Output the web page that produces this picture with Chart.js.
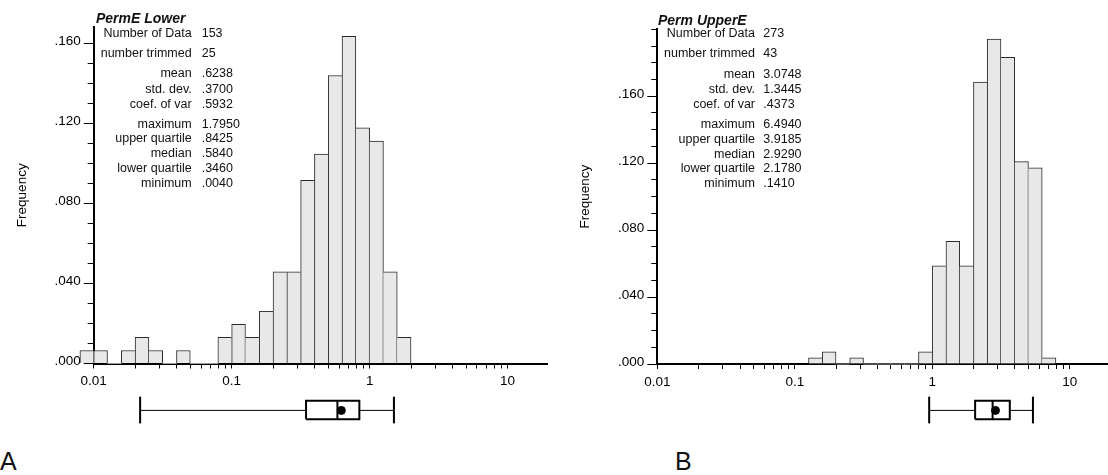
<!DOCTYPE html>
<html>
<head>
<meta charset="utf-8">
<script src="https://cdn.jsdelivr.net/npm/chart.js@4/dist/chart.umd.min.js"></script>
<style>
  html, body { margin: 0; padding: 0; background: #fff; }
  body {
    width: 1108px; height: 475px; position: relative; overflow: hidden;
    font-family: "Liberation Sans", Arial, Helvetica, sans-serif; color: #111;
  }
  canvas { position: absolute; }
  .title { position: absolute; font-size: 14px; line-height: 16px; font-weight: bold; font-style: italic; white-space: nowrap; }
  .lab, .val { position: absolute; font-size: 12.5px; line-height: 15px; white-space: nowrap; }
  .lab { width: 160px; text-align: right; }
  .tag { position: absolute; font-size: 25px; line-height: 25px; }
</style>
</head>
<body>
<script>
// ---- data ----
const statLabels = ['Number of Data', 'number trimmed', 'mean', 'std. dev.', 'coef. of var',
  'maximum', 'upper quartile', 'median', 'lower quartile', 'minimum'];
const statsA = ['153', '25', '.6238', '.3700', '.5932', '1.7950', '.8425', '.5840', '.3460', '.0040'];
const statsB = ['273', '43', '3.0748', '1.3445', '.4373', '6.4940', '3.9185', '2.9290', '2.1780', '.1410'];

// log10 of each class' lower edge, and the class frequency
const binStartA = [-2.1, -2.0, -1.9, -1.8, -1.7, -1.6, -1.5, -1.4, -1.3, -1.2, -1.1, -1.0, -0.9,
  -0.8, -0.7, -0.6, -0.5, -0.4, -0.3, -0.2, -0.1, 0.0, 0.1, 0.2];
const freqA = [0.0065, 0.0065, 0, 0.0065, 0.0131, 0.0065, 0, 0.0065, 0, 0, 0.0131, 0.0196, 0.0131,
  0.0261, 0.0458, 0.0458, 0.0915, 0.1046, 0.1438, 0.1634, 0.1176, 0.1111, 0.0458, 0.0131];
const binStartB = [-0.9, -0.8, -0.7, -0.6, -0.5, -0.4, -0.3, -0.2, -0.1, 0.0, 0.1, 0.2, 0.3, 0.4,
  0.5, 0.6, 0.7, 0.8];
const freqB = [0.0037, 0.0073, 0, 0.0037, 0, 0, 0, 0, 0.0073, 0.0586, 0.0733, 0.0586, 0.1685,
  0.1941, 0.1832, 0.1209, 0.1172, 0.0037];

// whisker low, lower quartile, median, upper quartile, whisker high
const boxA = [0.0217, 0.346, 0.584, 0.8425, 1.50];
const meanA = 0.6238;
const boxB = [1.0, 2.178, 2.929, 3.9185, 5.80];
const meanB = 3.0748;

const yTicks = [0, 0.04, 0.08, 0.12, 0.16];
const yTickLabels = ['.000', '.040', '.080', '.120', '.160'];
const xTicks = [0.01, 0.1, 1, 10];
const xTickLabels = ['0.01', '0.1', '1', '10'];

// ---- layout ----
const BIN = 0.1; // class width in log10 units
const FONT = '"Liberation Sans", Arial, Helvetica, sans-serif';
Chart.defaults.font.family = FONT;
Chart.defaults.color = '#000';

const BOX = { top: 385, height: 50, capLo: 0.166, boxLo: 0.266, mid: 0.49, boxHi: 0.734, capHi: 0.834 };
const ROWS = [0, 20, 40.5, 56, 71, 91, 105.5, 120.5, 135, 150];

const panels = [
  { tag: 'A', name: 'PermE Lower', stats: statsA, starts: binStartA, freq: freqA, box: boxA, mean: meanA,
    left: 0, width: 560, axisX: 93.7, right: 547.3, top: 27, bottom: 363.5, xMax: 19.4, yMax: 0.168,
    titlePad: 14, nameX: 96, nameY: 10.4, labX: 191.7, valX: 201.7, rowY: 32.8, tagX: 0 },
  { tag: 'B', name: 'Perm UpperE', stats: statsB, starts: binStartB, freq: freqB, box: boxB, mean: meanB,
    left: 570, width: 538, axisX: 657.3, right: 1108, top: 29.3, bottom: 364, xMax: 19, yMax: 0.2,
    titlePad: 7, nameX: 658, nameY: 11.9, labX: 755, valX: 763.3, rowY: 33.4, tagX: 675 }
];

const xAllTicks = xTicks.flatMap(d => d < 10 ? [1, 2, 3, 4, 5, 6, 7, 8, 9].map(k => d * k) : [d]);
const xLabel = v => {
  const i = xTicks.findIndex(t => Math.abs(t - v) < t * 1e-6);
  return i < 0 ? '' : xTickLabels[i];
};

// each divider is drawn once, by the taller of the two neighbouring classes
function barEdges(ctx) {
  const d = ctx.dataset.data, i = ctx.dataIndex;
  if (i === undefined || !d[i].y) return 0;
  const v = d[i].y;
  const prev = i > 0 ? d[i - 1].y : 0;
  const next = i < d.length - 1 ? d[i + 1].y : 0;
  return { top: 1, bottom: 0, left: prev <= v ? 1 : 0, right: next < v ? 1 : 0 };
}

function addCanvas(left, top, w, h) {
  const c = document.createElement('canvas');
  c.width = w; c.height = h;
  c.style.left = left + 'px'; c.style.top = top + 'px';
  document.body.appendChild(c);
  return c;
}

function addText(cls, text, left, top) {
  const d = document.createElement('div');
  d.className = cls;
  d.textContent = text;
  d.style.left = left + 'px';
  d.style.top = top + 'px';
  document.body.appendChild(d);
}

function histogram(p) {
  const h = 400;
  const data = p.starts.map((s, i) => ({ x: Math.pow(10, s + BIN / 2), y: p.freq[i] }));
  const minor = [];
  for (let v = 0; v <= p.yMax + 1e-9; v += 0.01) minor.push({ value: Math.round(v * 100) / 100 });

  new Chart(addCanvas(p.left, 0, p.width, h), {
    type: 'bar',
    data: {
      datasets: [{
        data,
        backgroundColor: '#e8e8e8',
        borderColor: '#2a2a2a',
        borderSkipped: false,
        borderWidth: barEdges,
        barThickness: 'flex',
        barPercentage: 1,
        categoryPercentage: 1,
        clip: false,
      }]
    },
    options: {
      responsive: false,
      animation: false,
      layout: { padding: { top: p.top, right: p.left + p.width - p.right, bottom: 0, left: 0 } },
      plugins: { legend: { display: false }, tooltip: { enabled: false } },
      scales: {
        x: {
          type: 'logarithmic',
          min: 0.01,
          max: p.xMax,
          bounds: 'data',
          offset: false,
          afterBuildTicks: s => { s.ticks = xAllTicks.map(v => ({ value: v })); },
          afterFit: s => { s.height = h - p.bottom; },
          grid: { offset: false, drawOnChartArea: false, tickLength: 5, color: '#000' },
          border: { color: '#000', width: 2 },
          ticks: {
            autoSkip: false, maxRotation: 0, minRotation: 0, padding: 5,
            font: { size: 13.5 }, color: '#000',
            callback: v => xLabel(v),
          },
        },
        y: {
          position: 'left',
          weight: 1,
          min: 0,
          max: p.yMax,
          bounds: 'data',
          afterBuildTicks: s => { s.ticks = yTicks.map(v => ({ value: v })); },
          afterFit: s => { s.width = p.axisX - p.left; },
          grid: { drawOnChartArea: false, tickLength: 10, color: '#000' },
          border: { color: '#000', width: 2 },
          ticks: {
            padding: 3, labelOffset: -2, font: { size: 13.5 }, color: '#000',
            callback: (v, i) => yTickLabels[i],
          },
          title: { display: true, text: 'Frequency', font: { size: 13.5 }, color: '#000', padding: p.titlePad },
        },
        yMinor: {
          position: 'left',
          weight: 0,
          min: 0,
          max: p.yMax,
          bounds: 'data',
          afterBuildTicks: s => { s.ticks = minor; },
          afterFit: s => { s.width = 0; },
          grid: { drawOnChartArea: false, tickLength: 6, color: '#000' },
          border: { display: false },
          ticks: { display: false },
        },
      },
    },
  });
}

function boxPlot(p) {
  const [lo, q1, med, q3, hi] = p.box;
  const line = (pts, w) => ({
    data: pts, showLine: true, borderColor: '#000', borderWidth: w,
    pointRadius: 0, borderJoinStyle: 'miter', clip: false,
  });
  new Chart(addCanvas(p.left, BOX.top, p.width, BOX.height), {
    type: 'scatter',
    data: {
      datasets: [
        { data: [{ x: p.mean, y: BOX.mid }], pointRadius: 4, backgroundColor: '#000', borderColor: '#000', clip: false },
        line([{ x: med, y: BOX.boxLo }, { x: med, y: BOX.boxHi }], 2),
        line([{ x: q1, y: BOX.boxLo }, { x: q3, y: BOX.boxLo }, { x: q3, y: BOX.boxHi },
              { x: q1, y: BOX.boxHi }, { x: q1, y: BOX.boxLo }], 2),
        line([{ x: lo, y: BOX.capLo }, { x: lo, y: BOX.capHi }], 2),
        line([{ x: hi, y: BOX.capLo }, { x: hi, y: BOX.capHi }], 2),
        line([{ x: lo, y: BOX.mid }, { x: q1, y: BOX.mid }], 1),
        line([{ x: q3, y: BOX.mid }, { x: hi, y: BOX.mid }], 1),
      ]
    },
    options: {
      responsive: false,
      animation: false,
      layout: { padding: { top: 0, bottom: 0, left: p.axisX - p.left, right: p.left + p.width - p.right } },
      plugins: { legend: { display: false }, tooltip: { enabled: false } },
      scales: {
        x: { type: 'logarithmic', min: 0.01, max: p.xMax, display: false },
        y: { min: 0, max: 1, display: false },
      },
    },
  });
}

panels.forEach(p => {
  histogram(p);
  boxPlot(p);
  addText('title', p.name, p.nameX, p.nameY);
  statLabels.forEach((s, i) => {
    const top = p.rowY + ROWS[i] - 7.1;
    addText('lab', s, p.labX - 160, top);
    addText('val', p.stats[i], p.valX, top);
  });
  addText('tag', p.tag, p.tagX, 449);
});
</script>
</body>
</html>
